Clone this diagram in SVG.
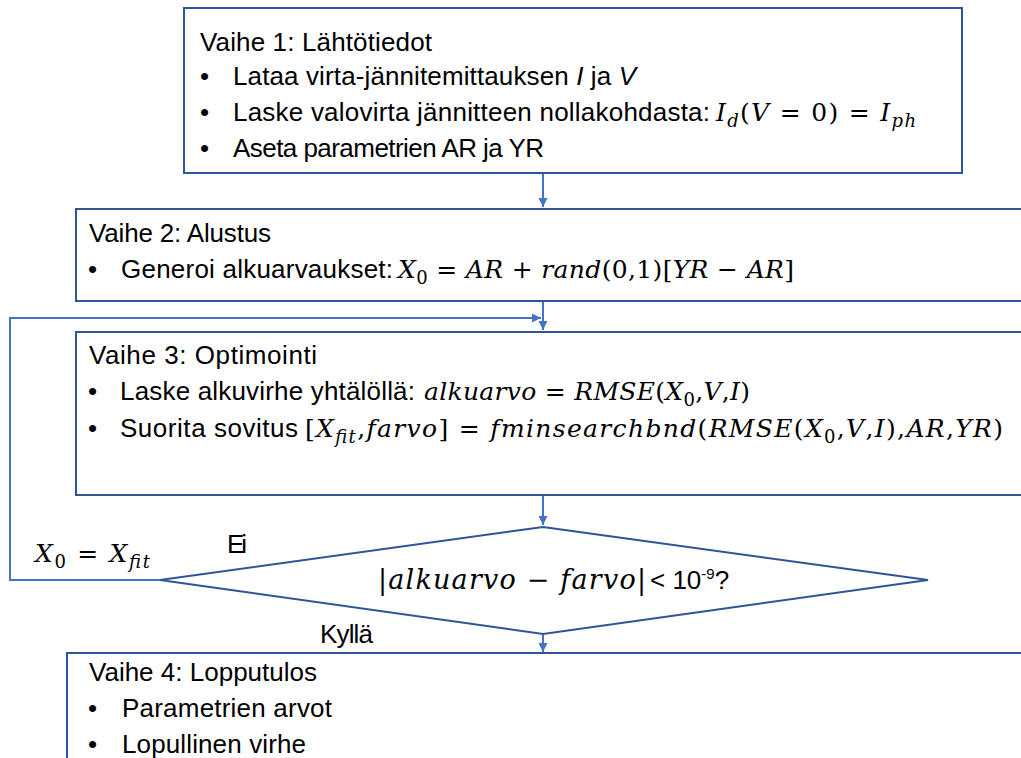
<svg xmlns="http://www.w3.org/2000/svg" width="1021" height="758" viewBox="0 0 1021 758">
<defs>
<style>
.box{fill:#ffffff;stroke:#2F5597;stroke-width:2}
.con{fill:none;stroke:#4472C4;stroke-width:2}
.t{font-family:"Liberation Sans",Arial,sans-serif;font-size:26px;fill:#000}
.m{font-family:"DejaVu Serif","Liberation Serif",serif;font-style:italic;font-size:25px;fill:#000}
.mu{font-style:normal}
.s{font-size:18px}
</style>
<marker id="ah" viewBox="0 0 10 10" refX="10" refY="5" markerWidth="4.5" markerHeight="4.5" orient="auto" markerUnits="strokeWidth">
<path d="M0,0 L10,5 L0,10 z" fill="#4472C4"/>
</marker>
</defs>
<rect width="1021" height="758" fill="#ffffff"/>

<g id="connectors">
<line class="con" x1="543" y1="174" x2="543" y2="207" marker-end="url(#ah)"/>
<line class="con" x1="543" y1="302" x2="543" y2="330" marker-end="url(#ah)"/>
<polyline class="con" points="160,580 10,580 10,318 541,318" marker-end="url(#ah)"/>
<line class="con" x1="543" y1="496" x2="543" y2="525" marker-end="url(#ah)"/>
<line class="con" x1="543" y1="635" x2="543" y2="652" marker-end="url(#ah)"/>
</g>

<g id="step1">
<rect class="box" x="184" y="8" width="778" height="165"/>
<text class="t" x="200" y="51" textLength="232">Vaihe 1: Lähtötiedot</text>
<text class="t" x="200" y="85">•</text>
<text class="t" x="233" y="85" textLength="403">Lataa virta-jännitemittauksen <tspan font-style="italic">I</tspan> ja <tspan font-style="italic">V</tspan></text>
<text class="t" x="200" y="121">•</text>
<text class="t" x="233" y="121" textLength="477">Laske valovirta jännitteen nollakohdasta:</text>
<text class="m" x="716" y="121" textLength="200">I<tspan class="s" dy="6">d</tspan><tspan dy="-6" class="mu">(</tspan>V <tspan class="mu">= 0) =</tspan> I<tspan class="s" dy="6">ph</tspan></text>
<text class="t" x="200" y="157">•</text>
<text class="t" x="233" y="157" textLength="311">Aseta parametrien AR ja YR</text>
</g>

<g id="step2">
<rect class="box" x="76" y="209" width="960" height="92"/>
<text class="t" x="89" y="242" textLength="182">Vaihe 2: Alustus</text>
<text class="t" x="88" y="278">•</text>
<text class="t" x="121" y="278" textLength="272">Generoi alkuarvaukset:</text>
<text class="m" x="398" y="278" textLength="396">X<tspan class="s mu" dy="6">0</tspan><tspan dy="-6" class="mu"> = </tspan>AR <tspan class="mu">+</tspan> rand<tspan class="mu">(0,1)[</tspan>YR <tspan class="mu">−</tspan> AR<tspan class="mu">]</tspan></text>
</g>

<g id="step3">
<rect class="box" x="76" y="332" width="960" height="163"/>
<text class="t" x="89" y="364" textLength="228">Vaihe 3: Optimointi</text>
<text class="t" x="88" y="400">•</text>
<text class="t" x="120" y="400" textLength="295">Laske alkuvirhe yhtälöllä:</text>
<text class="m" x="424" y="400" textLength="326">alkuarvo <tspan class="mu">=</tspan>  RMSE<tspan class="mu">(</tspan>X<tspan class="s mu" dy="6">0</tspan><tspan dy="-6" class="mu">,</tspan>V<tspan class="mu">,</tspan>I<tspan class="mu">)</tspan></text>
<text class="t" x="88" y="437">•</text>
<text class="t" x="120" y="437" textLength="178">Suorita sovitus</text>
<text class="m" x="305" y="437" textLength="698"><tspan class="mu">[</tspan>X<tspan class="s" dy="6">fit</tspan><tspan dy="-6" class="mu">,</tspan>farvo<tspan class="mu">] = </tspan>fminsearchbnd<tspan class="mu">(</tspan>RMSE<tspan class="mu">(</tspan>X<tspan class="s mu" dy="6">0</tspan><tspan dy="-6" class="mu">,</tspan>V<tspan class="mu">,</tspan>I<tspan class="mu">),</tspan>AR<tspan class="mu">,</tspan>YR<tspan class="mu">)</tspan></text>
</g>

<g id="decision">
<polygon class="box" points="543,527 928,580 543,634 160,580"/>
<text class="m" x="378" y="589" style="font-size:27px" textLength="268"><tspan class="mu">|</tspan>alkuarvo<tspan class="mu"> − </tspan>farvo<tspan class="mu">|</tspan></text>
<text class="t" x="650" y="589">&lt; 10<tspan font-size="15" dy="-10">-9</tspan><tspan dy="10">?</tspan></text>
</g>

<g id="labels">
<text class="m" x="35" y="562" textLength="115">X<tspan class="s mu" dy="6">0</tspan><tspan dy="-6" class="mu"> = </tspan>X<tspan class="s" dy="6">fit</tspan></text>
<text class="t" x="227" y="553" textLength="20">Ei</text>
<text class="t" x="320" y="643" textLength="53">Kyllä</text>
</g>

<g id="step4">
<rect class="box" x="67" y="653" width="970" height="120"/>
<text class="t" x="89" y="681" textLength="228">Vaihe 4: Lopputulos</text>
<text class="t" x="88" y="717">•</text>
<text class="t" x="122" y="717" textLength="210">Parametrien arvot</text>
<text class="t" x="88" y="753">•</text>
<text class="t" x="122" y="753" textLength="184">Lopullinen virhe</text>
</g>
</svg>
